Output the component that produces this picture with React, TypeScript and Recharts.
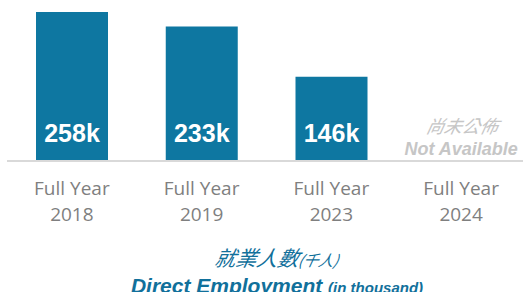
import { BarChart, Bar, XAxis, YAxis, LabelList, ReferenceDot } from 'recharts';

const YEARS = ['2018', '2019', '2023', '2024'];
const EMPLOYMENT = [258, 233, 146, null];
const BAR_LABELS = ['258k', '233k', '146k', ''];
const NA_ZH = '尚未公佈';
const NA_EN = 'Not Available';

const BLUE = '#0E77A1';
const TITLE = '#11709B';
const GREY = '#7F7F7F';
const NA_GREY = '#C6C6C6';

const data = YEARS.map((y, i) => ({ year: y, value: EMPLOYMENT[i], label: BAR_LABELS[i] }));

const YearTick = ({ x, y, payload }: any) => (
  <text x={x} textAnchor="middle" fill={GREY} fontFamily="'Open Sans', sans-serif" fontSize={19}>
    <tspan x={x} y={y + 26}>Full Year</tspan>
    <tspan x={x} y={y + 52}>{payload.value}</tspan>
  </text>
);

const BarValue = ({ x, y, width, height, index }: any) => {
  const text = BAR_LABELS[index];
  if (!text) return null;
  return (
    <text
      x={x + width / 2}
      y={y + height - 19}
      textAnchor="middle"
      fill="#fff"
      fontFamily="'Liberation Sans', Arial, sans-serif"
      fontWeight="bold"
      fontSize={25}
    >
      {text}
    </text>
  );
};

const NotAvailable = ({ viewBox }: any) => {
  const cx = viewBox.x + (viewBox.width || 0) / 2;
  const by = viewBox.y + (viewBox.height || 0) / 2;
  return (
    <g fill={NA_GREY} fontStyle="italic" textAnchor="middle">
      <text
        x={cx}
        y={by - 28}
        fontSize={18}
        fontFamily="'Noto Sans CJK TC', sans-serif"
        style={{ transform: 'skewX(-12deg)', transformOrigin: `${cx}px ${by - 28}px` }}
      >
        {NA_ZH}
      </text>
      <text x={cx} y={by - 6} fontSize={18} fontWeight="bold" fontFamily="'Liberation Sans', Arial, sans-serif">{NA_EN}</text>
    </g>
  );
};

export default function App() {
  return (
    <div style={{ position: 'absolute', left: 0, top: 0, width: 523, height: 292, overflow: 'hidden', background: '#fff' }}>
      <BarChart width={526} height={240} data={data} margin={{ top: 5, right: 0, left: 7, bottom: 0 }}>
        <XAxis
          dataKey="year"
          height={79}
          tickLine={false}
          axisLine={{ stroke: '#D9D9D9', strokeWidth: 2 }}
          tick={<YearTick />}
          interval={0}
        />
        <YAxis hide domain={[0, 270]} />
        <Bar dataKey="value" fill={BLUE} barSize={72} isAnimationActive={false}>
          <LabelList dataKey="label" content={<BarValue />} />
        </Bar>
        <ReferenceDot x="2024" y={0} r={0} fill="none" stroke="none" label={<NotAvailable />} />
      </BarChart>
      <div
        style={{
          position: 'absolute',
          left: 0,
          width: 554,
          top: 244,
          textAlign: 'center',
          color: TITLE,
          fontStyle: 'italic',
          lineHeight: '26px',
        }}
      >
        <div style={{ fontFamily: "'Noto Sans CJK TC', sans-serif", fontSize: 21 }}>
          <span style={{ display: 'inline-block', transform: 'skewX(-12deg)' }}>
            就業人數<span style={{ fontSize: 15 }}>(千人)</span>
          </span>
        </div>
        <div style={{ fontFamily: "'Liberation Sans', Arial, sans-serif", fontWeight: 'bold', fontSize: 21 }}>
          Direct Employment <span style={{ fontSize: 15 }}>(in thousand)</span>
        </div>
      </div>
    </div>
  );
}
